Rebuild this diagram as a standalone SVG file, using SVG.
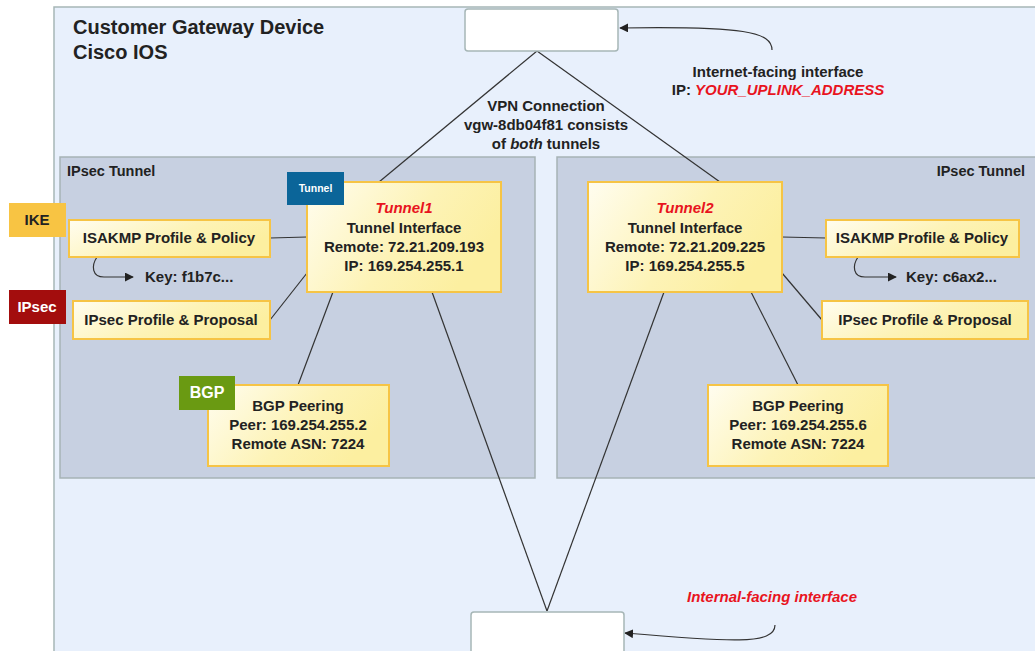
<svg xmlns="http://www.w3.org/2000/svg" width="1035" height="651" viewBox="0 0 1035 651">
<style>
text{font-family:"Liberation Sans",Arial,sans-serif;font-weight:bold;fill:#222}
.n{font-size:15px}
.c{text-anchor:middle}
.red{fill:#e8141e;font-style:italic}
.ybox{fill:url(#yg);stroke:#f6c445;stroke-width:2}
.panel{fill:#c7d0e1;stroke:#a6b3b5;stroke-width:1.5}
.wbox{fill:#fff;stroke:#a6b6b6;stroke-width:1.5}
.ln{stroke:#333;stroke-width:1.2;fill:none}
.badge{font-size:15px}
</style>
<defs>
<linearGradient id="yg" x1="0" y1="0" x2="1" y2="0.4">
<stop offset="0" stop-color="#fffdf0"/>
<stop offset="0.6" stop-color="#fdf3b6"/>
<stop offset="1" stop-color="#fcefa0"/>
</linearGradient>
<marker id="ah" viewBox="0 0 10 10" refX="9" refY="5" markerWidth="9" markerHeight="9" orient="auto" markerUnits="userSpaceOnUse">
<path d="M0,0 L10,5 L0,10 z" fill="#222"/>
</marker>
</defs>
<rect width="1035" height="651" fill="#fff"/>
<g id="device">
<rect x="54" y="7" width="995" height="660" fill="#e8f0fc" stroke="#a6b6b6" stroke-width="1.5"/>
<text x="73" y="34" font-size="20">Customer Gateway Device</text>
<text x="73" y="59" font-size="20">Cisco IOS</text>
</g>
<g id="panel-left">
<rect class="panel" x="60" y="157" width="475" height="321"/>
<text x="67" y="176" font-size="14.5">IPsec Tunnel</text>
</g>
<g id="panel-right">
<rect class="panel" x="557" y="157" width="485" height="321"/>
<text x="1025" y="176" font-size="14.5" text-anchor="end">IPsec Tunnel</text>
</g>
<g id="connectors">
<line class="ln" x1="379" y1="182" x2="537" y2="51"/>
<line class="ln" x1="537" y1="51" x2="720" y2="182"/>
<line class="ln" x1="270" y1="238" x2="307" y2="237"/>
<line class="ln" x1="270" y1="320" x2="307" y2="273"/>
<line class="ln" x1="333" y1="292" x2="298" y2="385"/>
<line class="ln" x1="432" y1="292" x2="547" y2="611"/>
<line class="ln" x1="782" y1="237" x2="826" y2="238"/>
<line class="ln" x1="782" y1="273" x2="822" y2="320"/>
<line class="ln" x1="751" y1="292" x2="798" y2="385"/>
<line class="ln" x1="664" y1="292" x2="547" y2="611"/>
<path class="ln" d="M97,257 C91,266 92,277 104,277 L133,277" marker-end="url(#ah)"/>
<path class="ln" d="M858,257 C852,266 853,277 865,277 L896,277" marker-end="url(#ah)"/>
<path class="ln" d="M772,50 C772,32 745,26 620,28" marker-end="url(#ah)"/>
<path class="ln" d="M775,625 C775,645 730,642 625,633" marker-end="url(#ah)"/>
</g>
<g id="uplink">
<rect class="wbox" x="465" y="9" width="153" height="42" rx="3"/>
</g>
<g id="internal">
<rect class="wbox" x="471" y="612" width="153" height="50" rx="3"/>
</g>
<g id="vpn-label">
<text class="n c" x="546" y="111">VPN Connection</text>
<text class="n c" x="546" y="130">vgw-8db04f81 consists</text>
<text class="n c" x="546" y="149">of <tspan font-style="italic">both</tspan> tunnels</text>
</g>
<g id="uplink-label">
<text class="n c" x="778" y="77">Internet-facing interface</text>
<text class="n c" x="778" y="95">IP: <tspan class="red">YOUR_UPLINK_ADDRESS</tspan></text>
</g>
<g id="internal-label">
<text class="n c red" x="772" y="602">Internal-facing interface</text>
</g>
<g id="tunnel1">
<rect class="ybox" x="307" y="182" width="194" height="110"/>
<text class="n c red" x="404" y="213">Tunnel1</text>
<text class="n c" x="404" y="233">Tunnel Interface</text>
<text class="n c" x="404" y="252">Remote: 72.21.209.193</text>
<text class="n c" x="404" y="271">IP: 169.254.255.1</text>
<rect x="287" y="172" width="57" height="33" fill="#0b6599"/>
<text x="315.5" y="192" font-size="10.5" text-anchor="middle" style="fill:#fff">Tunnel</text>
</g>
<g id="isakmp1">
<rect class="ybox" x="69" y="220" width="201" height="37"/>
<text class="n c" x="169" y="243">ISAKMP Profile &amp; Policy</text>
<rect x="9" y="203" width="57" height="34" fill="#f8c443"/>
<text class="badge c" x="37" y="225">IKE</text>
</g>
<g id="key1">
<text class="n" x="145" y="282">Key: f1b7c...</text>
</g>
<g id="ipsec1">
<rect class="ybox" x="73" y="301" width="197" height="38"/>
<text class="n c" x="171" y="325">IPsec Profile &amp; Proposal</text>
<rect x="9" y="290" width="57" height="34" fill="#a30d0d"/>
<text class="badge c" x="37" y="312" style="fill:#fff">IPsec</text>
</g>
<g id="bgp1">
<rect class="ybox" x="208" y="385" width="181" height="81"/>
<text class="n c" x="298" y="411">BGP Peering</text>
<text class="n c" x="298" y="430">Peer: 169.254.255.2</text>
<text class="n c" x="298" y="449">Remote ASN: 7224</text>
<rect x="179" y="376" width="56" height="34" fill="#6a9a12"/>
<text class="c" x="207" y="398" font-size="16" style="fill:#fff">BGP</text>
</g>
<g id="tunnel2">
<rect class="ybox" x="588" y="182" width="194" height="110"/>
<text class="n c red" x="685" y="213">Tunnel2</text>
<text class="n c" x="685" y="233">Tunnel Interface</text>
<text class="n c" x="685" y="252">Remote: 72.21.209.225</text>
<text class="n c" x="685" y="271">IP: 169.254.255.5</text>
</g>
<g id="isakmp2">
<rect class="ybox" x="826" y="220" width="193" height="37"/>
<text class="n c" x="922" y="243">ISAKMP Profile &amp; Policy</text>
</g>
<g id="key2">
<text class="n" x="906" y="282">Key: c6ax2...</text>
</g>
<g id="ipsec2">
<rect class="ybox" x="822" y="301" width="206" height="38"/>
<text class="n c" x="925" y="325">IPsec Profile &amp; Proposal</text>
</g>
<g id="bgp2">
<rect class="ybox" x="708" y="385" width="180" height="81"/>
<text class="n c" x="798" y="411">BGP Peering</text>
<text class="n c" x="798" y="430">Peer: 169.254.255.6</text>
<text class="n c" x="798" y="449">Remote ASN: 7224</text>
</g>
</svg>
